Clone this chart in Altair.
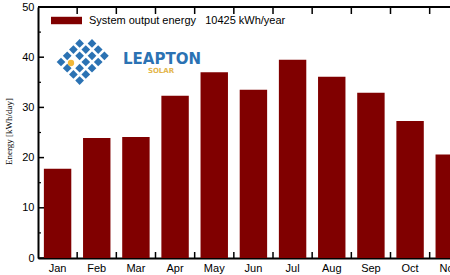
import altair as alt
import pandas as pd

# ---- data ----
months = ["Jan", "Feb", "Mar", "Apr", "May", "Jun", "Jul", "Aug", "Sep", "Oct", "Nov", "Dec"]
energy = [17.8, 23.9, 24.1, 32.3, 37.0, 33.5, 39.5, 36.1, 32.9, 27.3, 20.6, 17.5]
series_label = "System output energy\u00a0\u00a0\u00a010425 kWh/year"
y_major = [0, 10, 20, 30, 40, 50]
y_minor = [5, 15, 25, 35, 45]
logo_word = ["LEAPTON"]
logo_sub = ["SOLAR"]

W, H = 412, 251
BAR = "#800000"
BLUE = "#2b72b3"

df = pd.DataFrame({"month": months, "energy": energy, "series": [series_label] * len(months)})

xscale = alt.Scale(domain=months, range=[0, 470], paddingInner=0, paddingOuter=0)
yscale = alt.Scale(domain=[0, 50], nice=False, zero=True)

bars = alt.Chart(df).mark_bar(width=alt.RelativeBandSize(0.7), clip=True).encode(
    x=alt.X("month:N", sort=months, scale=xscale,
            axis=alt.Axis(title=None, labelAngle=0, ticks=False, domainWidth=2, domainColor="black",
                          labelFont="Liberation Sans", labelFontSize=11, labelColor="black",
                          labelPadding=4, labelOverlap=False, grid=False)),
    y=alt.Y("energy:Q", scale=yscale,
            axis=alt.Axis(values=y_major, ticks=False, domainWidth=2, domainColor="black", grid=False,
                          labelFont="Liberation Sans", labelFontSize=11, labelColor="black", labelPadding=4,
                          title="Energy [kWh/day]", titleFont="Liberation Serif", titleFontSize=9,
                          titleFontWeight="normal", titleColor="black", titleAngle=270,
                          titleX=-30, titleY=124, titleAlign="center", titleBaseline="middle")),
    color=alt.Color("series:N", scale=alt.Scale(domain=[series_label], range=[BAR]),
                    legend=alt.Legend(orient="none", legendX=13, legendY=-2, title=None,
                                      symbolType="M-1,-0.24H1V0.24H-1Z", symbolSize=961,
                                      symbolStrokeWidth=0, symbolOpacity=1, padding=0,
                                      labelFont="Liberation Sans", labelFontSize=11, labelColor="black",
                                      labelOffset=7, labelLimit=400)),
)

# inward tick marks on y axis
ymaj = alt.Chart(pd.DataFrame({"v": y_major})).mark_rule(color="black", strokeWidth=1.5).encode(
    y=alt.Y("v:Q", scale=yscale), x=alt.value(0), x2=alt.value(6))
ymin = alt.Chart(pd.DataFrame({"v": y_minor})).mark_rule(color="black", strokeWidth=1.2).encode(
    y=alt.Y("v:Q", scale=yscale), x=alt.value(0), x2=alt.value(3))

# inward ticks at month boundaries (bottom and top)
bdf = pd.DataFrame({"month": months[1:]})
xt_bot = alt.Chart(bdf).mark_rule(color="black", strokeWidth=1.5, clip=True).encode(
    x=alt.X("month:N", sort=months, scale=xscale, bandPosition=0), y=alt.value(H), y2=alt.value(H - 6))
xt_top = alt.Chart(bdf).mark_rule(color="black", strokeWidth=1.5, clip=True).encode(
    x=alt.X("month:N", sort=months, scale=xscale, bandPosition=0), y=alt.value(0), y2=alt.value(7))

top_line = alt.Chart(pd.DataFrame({"a": [0]})).mark_rule(color="black", strokeWidth=2).encode(
    x=alt.value(0), x2=alt.value(W), y=alt.value(0))

# logo: rotated lattice of blue squares
lattice = [(i, j) for i in range(4) for j in range(4) if (i, j) != (1, 1)] + [(4, 1), (4, 2), (4, 3)]
cells = [{"lx": 23 + 6.2 * (i + j), "ly": 55 + 6.2 * (j - i)} for i, j in lattice]
logo_sq = alt.Chart(pd.DataFrame(cells)).mark_point(shape="square", angle=45, filled=True,
                                                   color=BLUE, opacity=1, size=38).encode(
    x=alt.X("lx:Q", scale=None, axis=None), y=alt.Y("ly:Q", scale=None, axis=None))
logo_dot = alt.Chart(pd.DataFrame({"lx": [33], "ly": [56]})).mark_point(shape="circle", filled=True,
                                                                       color="#f0b73a", opacity=1, size=40).encode(
    x=alt.X("lx:Q", scale=None, axis=None), y=alt.Y("ly:Q", scale=None, axis=None))
logo_txt = alt.Chart(pd.DataFrame({"t": logo_word})).mark_text(
    font="DejaVu Sans", fontWeight="bold", fontSize=15, color=BLUE, align="left", baseline="alphabetic").encode(
    text="t:N", x=alt.value(85), y=alt.value(56.5))
logo_sub_t = alt.Chart(pd.DataFrame({"t": logo_sub})).mark_text(
    font="DejaVu Sans", fontWeight="bold", fontSize=7, color="#e3b64c", align="center", baseline="middle").encode(
    text="t:N", x=alt.value(123), y=alt.value(64))

chart = alt.layer(bars, ymaj, ymin, xt_bot, xt_top, top_line, logo_sq, logo_dot, logo_txt, logo_sub_t).properties(
    width=W, height=H, autosize=alt.AutoSizeParams(type="none"),
    padding={"left": 38, "top": 7, "right": 0, "bottom": 17},
    background="white",
).configure_view(stroke=None)

chart.save("out.html", embed_options={"renderer": "svg", "actions": False})
